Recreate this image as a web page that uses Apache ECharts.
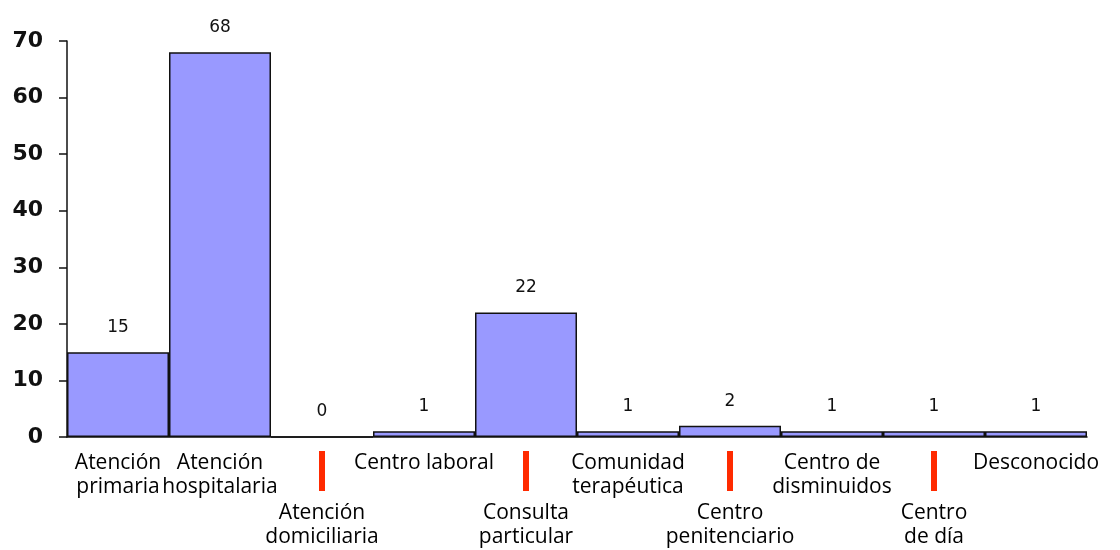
<!DOCTYPE html>
<html>
<head>
<meta charset="utf-8">
<script src="https://cdn.jsdelivr.net/npm/echarts@6/dist/echarts.min.js"></script>
<style>
    html, body { margin: 0; padding: 0; background: #fff; }
    #chart { width: 1120px; height: 550px; }
</style>
</head>
<body>
<div id="chart"></div>
<script>
    // categorías (línea 1 / línea 2)
    const categories = [
        'Atención\nprimaria',
        'Atención\nhospitalaria',
        'Atención\ndomiciliaria',
        'Centro laboral',
        'Consulta\nparticular',
        'Comunidad\nterapéutica',
        'Centro\npenitenciario',
        'Centro de\ndisminuidos',
        'Centro\nde día',
        'Desconocido'
    ]
    const values = [15, 68, 0, 1, 22, 1, 2, 1, 1, 1]
    // etiquetas que van abajo, con la marca roja
    const lowered = [2, 4, 6, 8]
    const yTicks = [0, 10, 20, 30, 40, 50, 60, 70]

    const chart = echarts.init(document.getElementById('chart'))

    const option = {
        animation: false,
        grid: {
            left: 67,
            right: 33,
            top: 41,
            bottom: 113
        },
        xAxis: {
            type: 'category',
            data: categories,
            axisLine: {
                lineStyle: { color: '#111', width: 1.5 }
            },
            axisTick: {
                length: 7,
                lineStyle: { color: '#111', width: 1.5 }
            },
            axisLabel: {
                interval: 0,
                margin: 14,
                color: '#000',
                formatter: function (value, idx) {
                    const lines = value.split('\n').map(l => '{t|' + l + '}').join('\n')
                    if (lowered.indexOf(idx) >= 0) {
                        return '{bar|}\n{gap|}\n' + lines
                    }
                    return lines
                },
                rich: {
                    t: {
                        fontFamily: 'Open Sans',
                        fontSize: 21,
                        lineHeight: 24,
                        color: '#000'
                    },
                    bar: {
                        width: 6,
                        height: 40,
                        backgroundColor: '#ff2a00'
                    },
                    gap: {
                        height: 10,
                        lineHeight: 10
                    }
                }
            }
        },
        yAxis: {
            type: 'value',
            min: yTicks[0],
            max: yTicks[yTicks.length - 1],
            interval: 10,
            splitLine: { show: false },
            axisLine: {
                show: true,
                lineStyle: { color: '#111', width: 1.5 }
            },
            axisTick: {
                show: true,
                length: 8,
                lineStyle: { color: '#111', width: 1.5 }
            },
            axisLabel: {
                margin: 24,
                fontFamily: 'DejaVu Sans',
                fontWeight: 'bold',
                fontSize: 22,
                color: '#111'
            }
        },
        series: [{
            type: 'bar',
            data: values,
            barCategoryGap: '0%',
            itemStyle: {
                color: '#9999ff',
                borderColor: '#111',
                borderWidth: 1.5
            },
            label: {
                show: true,
                position: 'top',
                distance: 16,
                fontFamily: 'DejaVu Sans',
                fontSize: 17,
                color: '#111'
            }
        }]
    }
    chart.setOption(option)
</script>
</body>
</html>
